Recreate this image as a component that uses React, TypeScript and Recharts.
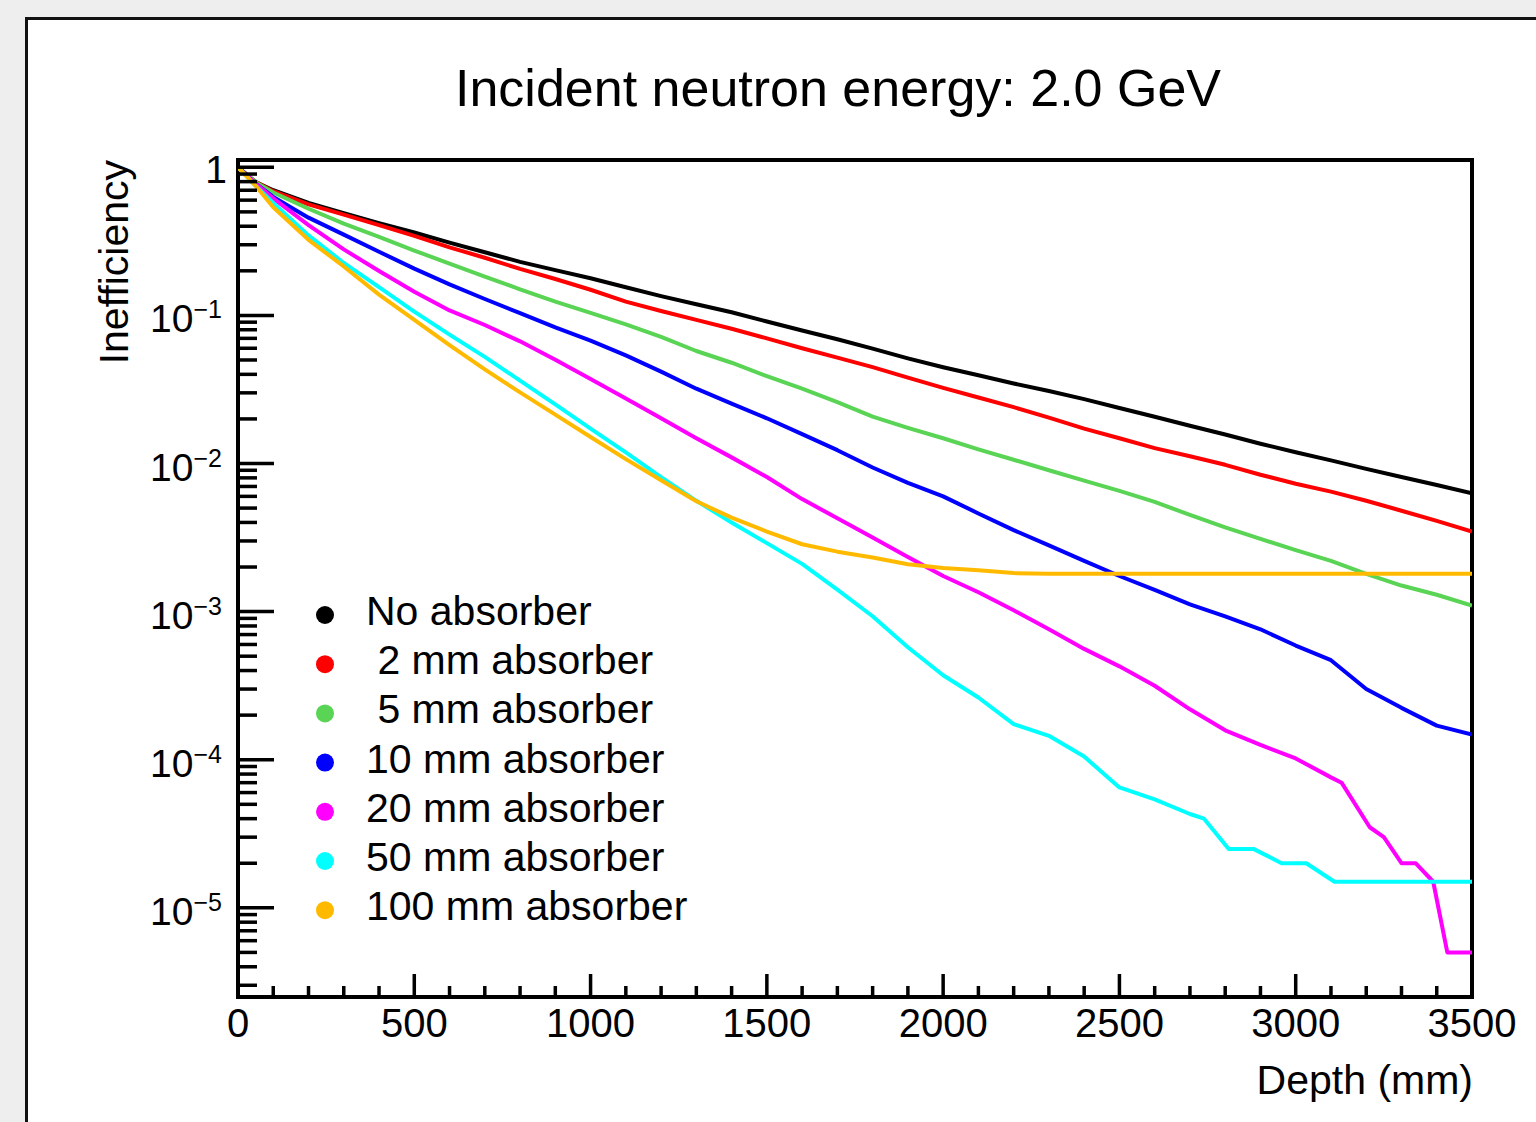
import { LineChart, Line, XAxis, YAxis, ReferenceArea, Legend } from 'recharts';

const FONT = '"Liberation Sans", Arial, Helvetica, sans-serif';

// depth grid in mm
const DEPTH = [
  0, 50, 100, 200, 300, 400, 500, 600, 700, 800, 900, 1000, 1100, 1200, 1300, 1400, 1500, 1600,
  1700, 1800, 1900, 2000, 2100, 2200, 2300, 2400, 2500, 2600, 2700, 2800, 2900, 3000, 3100, 3200,
  3300, 3400, 3500
];

const NO_ABSORBER = [
  1, 0.794, 0.7, 0.575, 0.49, 0.42, 0.363, 0.31, 0.267, 0.23, 0.202, 0.178, 0.155, 0.135, 0.119,
  0.105, 0.091, 0.079, 0.069, 0.0596, 0.0513, 0.0447, 0.0394, 0.0347, 0.0309, 0.0272, 0.0237,
  0.0207, 0.018, 0.0157, 0.0136, 0.0119, 0.0105, 0.0092, 0.0081, 0.00716, 0.0063
];

const ABS_2MM = [
  1, 0.794, 0.69, 0.562, 0.479, 0.407, 0.344, 0.288, 0.245, 0.206, 0.176, 0.149, 0.124, 0.107,
  0.0933, 0.0813, 0.07, 0.06, 0.0519, 0.0447, 0.038, 0.0324, 0.0279, 0.024, 0.0204, 0.0172, 0.0148,
  0.0127, 0.0112, 0.0098, 0.0084, 0.0073, 0.00646, 0.0056, 0.0048, 0.0041, 0.00347
];

const ABS_5MM = [
  1, 0.794, 0.676, 0.525, 0.417, 0.339, 0.274, 0.224, 0.183, 0.15, 0.124, 0.104, 0.087, 0.0716,
  0.0575, 0.0479, 0.0389, 0.032, 0.026, 0.0207, 0.0174, 0.0148, 0.01245, 0.0106, 0.009, 0.00767,
  0.00653, 0.0055, 0.0045, 0.0037, 0.0031, 0.0026, 0.0022, 0.0018, 0.0015, 0.0013, 0.0011
];

const ABS_10MM = [
  1, 0.776, 0.631, 0.457, 0.351, 0.269, 0.207, 0.162, 0.129, 0.1035, 0.083, 0.0676, 0.0537,
  0.0417, 0.032, 0.0254, 0.0202, 0.0158, 0.0123, 0.0094, 0.0074, 0.006, 0.0046, 0.00355, 0.0028,
  0.0022, 0.00174, 0.0014, 0.00112, 0.00093, 0.00076, 0.00059, 0.00047, 0.0003, 0.000224, 0.00017,
  0.000148
];

const ABS_20MM_DEPTH = [
  0, 50, 100, 200, 300, 400, 500, 600, 700, 800, 900, 1000, 1100, 1200, 1300, 1400, 1500, 1600,
  1700, 1800, 1900, 2000, 2100, 2200, 2300, 2400, 2500, 2600, 2700, 2800, 2900, 3000, 3100, 3130,
  3210, 3250, 3300, 3340, 3390, 3430, 3500
];
const ABS_20MM = [
  1, 0.776, 0.617, 0.407, 0.279, 0.1995, 0.1445, 0.108, 0.0861, 0.0668, 0.0501, 0.0372, 0.0275,
  0.0202, 0.0148, 0.011, 0.0081, 0.00575, 0.00427, 0.00316, 0.00234, 0.00174, 0.00135, 0.00102,
  0.00076, 0.00056, 0.000427, 0.000316, 0.000219, 0.000158, 0.000126, 0.000102, 0.000076, 0.00007,
  0.000035, 0.00003, 0.00002, 0.00002, 0.000015, 0.000005, 0.000005
];

const ABS_50MM_DEPTH = [
  0, 50, 100, 200, 300, 400, 500, 600, 700, 800, 900, 1000, 1100, 1200, 1300, 1400, 1500, 1600,
  1700, 1800, 1900, 2000, 2100, 2200, 2300, 2400, 2500, 2600, 2700, 2740, 2810, 2880, 2960, 3030,
  3110, 3500
];
const ABS_50MM = [
  1, 0.75, 0.575, 0.347, 0.226, 0.155, 0.106, 0.0741, 0.0525, 0.0363, 0.0251, 0.0172, 0.0119,
  0.0081, 0.0056, 0.004, 0.0029, 0.0021, 0.00141, 0.00093, 0.000575, 0.000372, 0.000263, 0.000174,
  0.000145, 0.000105, 0.000065, 0.000054, 0.000043, 0.00004, 0.000025, 0.000025, 0.00002, 0.00002,
  0.000015, 0.000015
];

const ABS_100MM = [
  1, 0.75, 0.537, 0.324, 0.214, 0.138, 0.0933, 0.063, 0.0432, 0.0302, 0.0214, 0.0151, 0.0107,
  0.0077, 0.00556, 0.00431, 0.00347, 0.00285, 0.00254, 0.00232, 0.00209, 0.00197, 0.0019, 0.00182,
  0.0018, 0.0018, 0.0018, 0.0018, 0.0018, 0.0018, 0.0018, 0.0018, 0.0018, 0.0018, 0.0018, 0.0018,
  0.0018
];

const SERIES = [
  { key: 'none', name: 'No absorber', color: '#000000', depth: DEPTH, values: NO_ABSORBER },
  { key: 'a2', name: ' 2 mm absorber', color: '#ff0000', depth: DEPTH, values: ABS_2MM },
  { key: 'a5', name: ' 5 mm absorber', color: '#59d454', depth: DEPTH, values: ABS_5MM },
  { key: 'a10', name: '10 mm absorber', color: '#0000ff', depth: DEPTH, values: ABS_10MM },
  { key: 'a20', name: '20 mm absorber', color: '#ff00ff', depth: ABS_20MM_DEPTH, values: ABS_20MM },
  { key: 'a50', name: '50 mm absorber', color: '#00ffff', depth: ABS_50MM_DEPTH, values: ABS_50MM },
  { key: 'a100', name: '100 mm absorber', color: '#ffba00', depth: DEPTH, values: ABS_100MM }
];

const Y_MIN = 2.5e-6;
const Y_MAX = 1.12;

// log axis: major ticks per decade, minor ticks at 2..9
const Y_TICKS: number[] = [];
for (let e = -6; e <= 0; e++) {
  for (let m = 1; m <= 9; m++) {
    const v = m * Math.pow(10, e);
    if (v >= Y_MIN && v <= Y_MAX) Y_TICKS.push(v);
  }
}
const X_TICKS: number[] = [];
for (let d = 0; d <= 3500; d += 100) X_TICKS.push(d);

function YTick(props: any) {
  const { x, y, payload } = props;
  const lg = Math.log10(payload.value);
  const exp = Math.round(lg);
  const major = Math.abs(lg - exp) < 1e-6;
  return (
    <g>
      <line x1={x} x2={x + (major ? 36 : 19)} y1={y} y2={y} stroke="#000" strokeWidth={3.5} />
      {major && exp === 0 && (
        <text x={x - 11} y={y + 16} textAnchor="end" fontSize={39} fontFamily={FONT} fill="#000">
          1
        </text>
      )}
      {major && exp < 0 && (
        <text x={x - 16} y={y + 17} textAnchor="end" fontFamily={FONT} fill="#000">
          <tspan fontSize={39}>10</tspan>
          <tspan fontSize={25} dy={-14}>
            {'\u2212' + -exp}
          </tspan>
        </text>
      )}
    </g>
  );
}

function XTick(props: any) {
  const { x, y, payload } = props;
  const major = payload.value % 500 === 0;
  return (
    <g>
      <line x1={x} x2={x} y1={y} y2={y - (major ? 23 : 11)} stroke="#000" strokeWidth={3.5} />
      {major && (
        <text x={x} y={y + 40} textAnchor="middle" fontSize={40} fontFamily={FONT} fill="#000">
          {payload.value}
        </text>
      )}
    </g>
  );
}

function LegendBox() {
  return (
    <svg width={440} height={360}>
      {SERIES.map((s, i) => {
        const cy = 35 + i * 49.2;
        return (
          <g key={s.key}>
            <circle cx={35} cy={cy} r={9} fill={s.color} />
            <text
              x={76}
              y={cy + 10}
              fontSize={41}
              fontFamily={FONT}
              fill="#000"
              xmlSpace="preserve"
              style={{ whiteSpace: 'pre' }}
            >
              {s.name}
            </text>
          </g>
        );
      })}
    </svg>
  );
}

export default function App() {
  return (
    <div
      style={{
        position: 'absolute',
        left: 0,
        top: 0,
        width: 1536,
        height: 1122,
        background: '#eeeeee',
        overflow: 'hidden',
        fontFamily: FONT
      }}
    >
      <div
        style={{
          position: 'absolute',
          left: 25,
          top: 17,
          width: 1600,
          height: 1200,
          background: '#fff',
          border: '3px solid #111',
          boxSizing: 'border-box'
        }}
      />
      <div style={{ position: 'absolute', left: 0, top: 0 }}>
        <LineChart width={1536} height={1122} margin={{ top: 160, right: 64, bottom: 124, left: 237 }}>
          <XAxis
            dataKey="x"
            type="number"
            domain={[0, 3500]}
            allowDataOverflow
            ticks={X_TICKS}
            interval={0}
            tick={<XTick />}
            tickSize={0}
            tickMargin={0}
            tickLine={false}
            axisLine={false}
            height={1}
          />
          <YAxis
            type="number"
            scale="log"
            domain={[Y_MIN, Y_MAX]}
            allowDataOverflow
            ticks={Y_TICKS}
            interval={0}
            tick={<YTick />}
            tickSize={0}
            tickMargin={0}
            tickLine={false}
            axisLine={false}
            width={1}
          />
          <ReferenceArea
            x1={0}
            x2={3500}
            y1={Y_MIN}
            y2={Y_MAX}
            fill="none"
            stroke="#000"
            strokeWidth={4}
            ifOverflow="visible"
          />
          {SERIES.map((s) => (
            <Line
              key={s.key}
              data={s.depth.map((d, i) => ({ x: d, y: s.values[i] }))}
              dataKey="y"
              name={s.name}
              type="linear"
              stroke={s.color}
              strokeWidth={4}
              strokeLinejoin="round"
              dot={false}
              activeDot={false}
              isAnimationActive={false}
            />
          ))}
          <Legend
            layout="vertical"
            align="center"
            verticalAlign="middle"
            wrapperStyle={{ left: 290, top: 580, width: 440, height: 360 }}
            content={() => <LegendBox />}
          />
        </LineChart>
      </div>
      <svg
        width={1536}
        height={1122}
        style={{ position: 'absolute', left: 0, top: 0, pointerEvents: 'none' }}
      >
        <text x={838} y={106} textAnchor="middle" fontSize={52} fontFamily={FONT} fill="#000">
          Incident neutron energy: 2.0 GeV
        </text>
        <text
          transform="translate(128,160) rotate(-90)"
          textAnchor="end"
          fontSize={41}
          fontFamily={FONT}
          fill="#000"
        >
          Inefficiency
        </text>
        <text x={1473} y={1094} textAnchor="end" fontSize={41} fontFamily={FONT} fill="#000">
          Depth (mm)
        </text>
      </svg>
    </div>
  );
}
